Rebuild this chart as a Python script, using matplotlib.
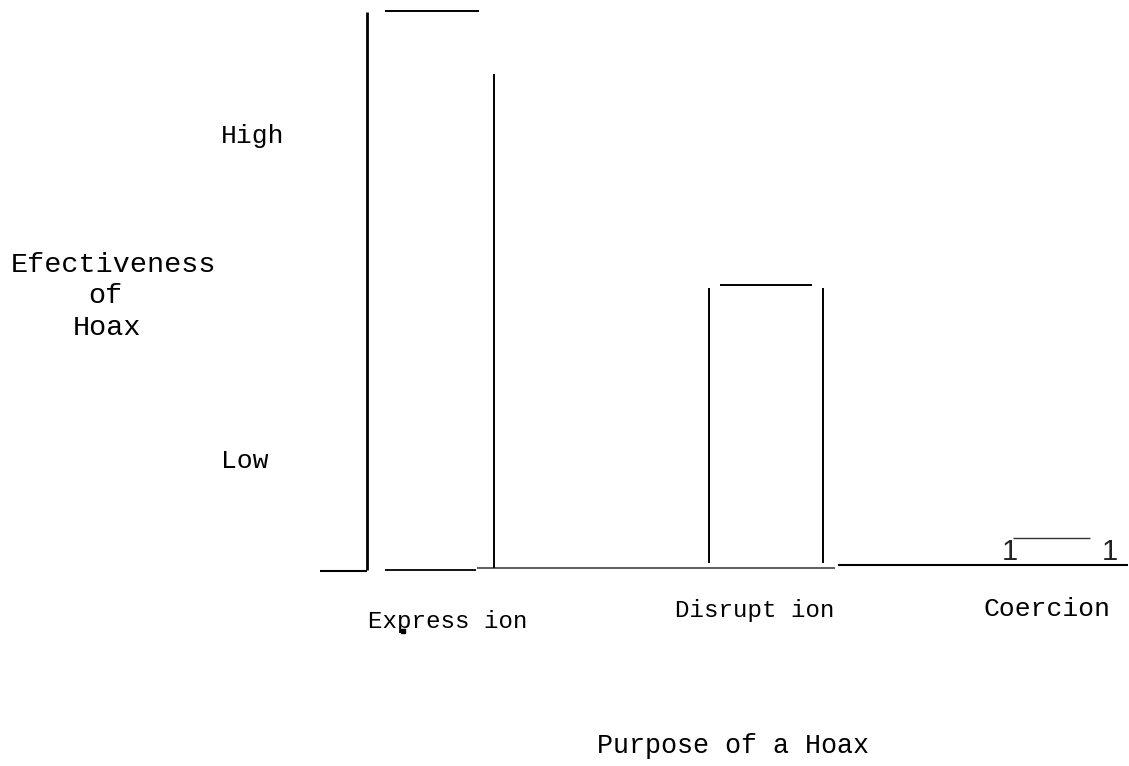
import matplotlib
matplotlib.use("Agg")
import matplotlib.pyplot as plt

# data
categories = ["Express ion", "Disrupt ion", "Coercion"]
effectiveness = [100, 50.8, 5.4]
level_labels = ["High", "Low"]
level_values = [77.7, 19.4]
x_title = "Purpose of a Hoax"
y_title = ["Efectiveness", "of", "Hoax"]

# page geometry (pixels of the 1129x766 scan)
W, H = 1129, 766
X0, XSTEP = 438, 316     # pixel of category 0, pixels per category
Y0, YSTEP = 568, 5.57    # baseline pixel, pixels per unit

def cx(px):
    return (px - X0) / XSTEP

def cy(py):
    return (Y0 - py) / YSTEP

# per-bar quirks of the scan
nudge = [-0.019, 0.038, -0.032]
top_half = [0.149, 0.147, 0.122]
top_shift = [0, 0, -0.027]
side_half = [0.196, 0.180, 0.158]
side_frac = [0.887, 0.99, 0]
side_bottom = [0, 0.9, 0]

mono = ["Liberation Mono", "DejaVu Sans Mono"]

fig = plt.figure(figsize=(W / 100, H / 100), dpi=100)
ax = fig.add_axes([0, 0, 1, 1])
ax.set_xlim(cx(0), cx(W))
ax.set_ylim(cy(H), cy(0))
ax.axis("off")

# y axis and broken baseline
ax.vlines(cx(367), cy(570), cy(12), color="black", lw=2.0)
ax.hlines(cy(571), cx(320), cx(367), color="black", lw=1.5)
ax.hlines(cy(570), cx(385), cx(476), color="black", lw=1.3)
ax.hlines(0, cx(477), cx(835), color="#444444", lw=1.2)
ax.hlines(cy(565), cx(838), cx(1128), color="black", lw=1.5)

for i, val in enumerate(effectiveness):
    c = i + nudge[i]
    t0 = c + top_shift[i] - top_half[i]
    t1 = c + top_shift[i] + top_half[i]
    if i < 2:
        ax.hlines(val, t0, t1, color="black", lw=1.4)
        ax.vlines(c + side_half[i], side_bottom[i], val * side_frac[i],
                  color="black", lw=1.4)
        if i == 1:
            ax.vlines(c - side_half[i], side_bottom[i], val * side_frac[i],
                      color="black", lw=1.4)
    else:
        # the scan turned the sides of this bar into "1" glyphs
        ax.hlines(val, t0, t1, color="#333333", lw=1.0)
        for s in (-1, 1):
            ax.text(c + s * side_half[i], cy(560), "1", ha="center",
                    va="baseline", fontsize=21, family="Liberation Sans",
                    color="#222222")

# category labels
label_px = [(448, 628), (755, 617), (1047, 616)]
label_fs = [17.4, 17.4, 19]
for lab, (px, py), fs in zip(categories, label_px, label_fs):
    ax.text(cx(px), cy(py), lab, ha="center", va="baseline",
            fontsize=fs, family=mono)
ax.plot(cx(403), cy(631), marker="s", ms=2.2, color="black")

# level labels
for lab, v in zip(level_labels, level_values):
    ax.text(cx(221), v - 1.4, lab, ha="left", va="baseline",
            fontsize=19, family=mono)

# axis titles
ax.text(cx(733), cy(753), x_title, ha="center", va="baseline",
        fontsize=19.3, family=mono)
for line, px, py in zip(y_title, [113, 105, 107], [272, 303, 335]):
    ax.text(cx(px), cy(py), line, ha="center", va="baseline",
            fontsize=20.5, family=mono)

fig.savefig("out.png", dpi=100)
